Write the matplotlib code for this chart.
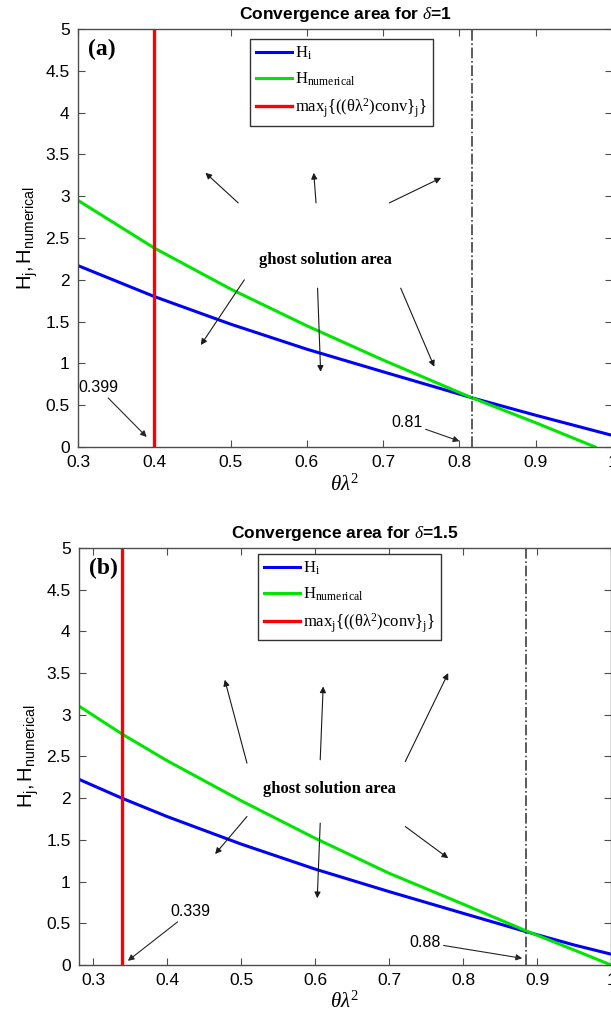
import numpy as np
import matplotlib
matplotlib.use("Agg")
import matplotlib.pyplot as plt
from matplotlib.ticker import FormatStrFormatter, MultipleLocator

plt.rcParams["font.family"] = ["Liberation Sans", "DejaVu Sans"]
plt.rcParams["mathtext.fontset"] = "custom"
plt.rcParams["mathtext.rm"] = "Liberation Serif"
plt.rcParams["mathtext.it"] = "Liberation Serif:italic"
plt.rcParams["mathtext.bf"] = "Liberation Serif:bold"
plt.rcParams["mathtext.sf"] = "Liberation Sans"

# ---- panel (a): delta = 1 ----
xa_blue = [0.30, 0.40, 0.50, 0.60, 0.70, 0.816, 0.90, 1.00]
ya_blue = [2.17, 1.80, 1.47, 1.17, 0.90, 0.59, 0.38, 0.14]
xa_green = [0.30, 0.40, 0.50, 0.60, 0.70, 0.816, 0.90, 0.978]
ya_green = [2.95, 2.38, 1.89, 1.45, 1.04, 0.59, 0.29, 0.00]
a_conv = 0.399
a_cross = 0.816

# ---- panel (b): delta = 1.5 ----
xb_blue = [0.28, 0.339, 0.40, 0.50, 0.60, 0.70, 0.80, 0.885, 0.95, 1.00]
yb_blue = [2.23, 2.00, 1.78, 1.45, 1.15, 0.88, 0.62, 0.40, 0.24, 0.13]
xb_green = [0.28, 0.339, 0.40, 0.50, 0.60, 0.70, 0.80, 0.885, 0.95, 1.00]
yb_green = [3.11, 2.77, 2.45, 1.97, 1.52, 1.10, 0.73, 0.41, 0.18, 0.00]
b_conv = 0.339
b_cross = 0.885

# ghost-area arrows: (x_start, y_start, x_end, y_end)
a_arrows = [(0.510, 2.92, 0.467, 3.28), (0.612, 2.92, 0.609, 3.28),
            (0.708, 2.92, 0.776, 3.22), (0.518, 2.00, 0.461, 1.22),
            (0.614, 1.90, 0.618, 0.90), (0.723, 1.90, 0.767, 0.96)]
b_arrows = [(0.508, 2.42, 0.478, 3.42), (0.607, 2.46, 0.611, 3.34),
            (0.722, 2.44, 0.780, 3.50), (0.508, 1.78, 0.465, 1.33),
            (0.607, 1.70, 0.603, 0.80), (0.722, 1.66, 0.780, 1.28)]

fig = plt.figure(figsize=(6.11, 10.22), dpi=100)
ax_a = fig.add_axes([0.1277, 0.5626, 0.874, 0.409])
ax_b = fig.add_axes([0.1293, 0.0558, 0.8707, 0.408])

legend_labels = [r"$\mathrm{H_i}$", r"$\mathrm{H_{numerical}}$",
                 r"$\mathrm{max_j\{((\theta\lambda^2)conv\}_j\}}$"]


def draw(ax, xb, yb, xg, yg, conv, cross, arrows, tag, title, xlim,
         text_xy, leg_anchor):
    ax.plot(xb, yb, color="#0000ff", lw=2.2, label=legend_labels[0])
    ax.plot(xg, yg, color="#00e600", lw=2.2, label=legend_labels[1])
    ax.axvline(conv, color="#ff0000", lw=2.4, label=legend_labels[2])
    ax.axvline(cross, color="0.25", lw=1.2, ls="-.")
    ax.set_xlim(*xlim)
    ax.set_ylim(0, 5)
    ax.xaxis.set_major_locator(MultipleLocator(0.1))
    ax.yaxis.set_major_locator(MultipleLocator(0.5))
    ax.xaxis.set_major_formatter(FormatStrFormatter("%g"))
    ax.yaxis.set_major_formatter(FormatStrFormatter("%g"))
    ax.tick_params(direction="in", top=True, right=True, length=5,
                   width=0.8, labelsize=12.5, pad=6, color="0.3")
    for s in ax.spines.values():
        s.set_color("0.3")
        s.set_linewidth(1.0)
    ax.set_title(title, fontsize=12.5, fontweight="bold", pad=7)
    ax.set_xlabel(r"$\theta\lambda^2$", fontsize=15, labelpad=2)
    ax.set_ylabel(r"$\mathsf{H_j,H_{numerical}}$", fontsize=14.5, labelpad=4)
    ax.text(xlim[0] + 0.013, 4.76, tag, fontsize=17, fontweight="bold",
            family="Liberation Serif", va="center", ha="left")
    ax.text(*text_xy, "ghost solution area", fontsize=12,
            fontweight="bold", family="Liberation Serif",
            ha="center", va="center")
    for x0, y0, x1, y1 in arrows:
        ax.annotate("", xy=(x1, y1), xytext=(x0, y0),
                    arrowprops=dict(arrowstyle="-|>", color="0.1", lw=0.8,
                                    mutation_scale=9, shrinkA=0, shrinkB=0))
    leg = ax.legend(loc="upper left", bbox_to_anchor=leg_anchor,
                    fontsize=12, frameon=True, fancybox=False,
                    edgecolor="0.2", framealpha=1, handlelength=2.2,
                    handletextpad=0.15, labelspacing=0.5, borderpad=0.35,
                    borderaxespad=0)
    leg.get_frame().set_linewidth(1.0)


draw(ax_a, xa_blue, ya_blue, xa_green, ya_green, a_conv, a_cross, a_arrows,
     "(a)", r"Convergence area for $\mathit{\delta}$=1", (0.3, 1.0),
     (0.624, 2.24), (0.322, 0.976))
draw(ax_b, xb_blue, yb_blue, xb_green, yb_green, b_conv, b_cross, b_arrows,
     "(b)", r"Convergence area for $\mathit{\delta}$=1.5", (0.281, 1.0),
     (0.62, 2.11), (0.336, 0.986))

# value annotations
arr = dict(arrowstyle="-|>", color="0.15", lw=0.8, mutation_scale=9,
           shrinkA=0, shrinkB=0)
ax_a.annotate("0.399", xy=(0.390, 0.12), xytext=(0.300, 0.71), fontsize=11.5,
              ha="left", va="center", arrowprops=arr)
ax_a.annotate("0.81", xy=(0.800, 0.07), xytext=(0.752, 0.29), fontsize=11.5,
              ha="right", va="center", arrowprops=arr)
ax_b.annotate("0.339", xy=(0.347, 0.05), xytext=(0.405, 0.64), fontsize=11.5,
              ha="left", va="center", arrowprops=arr)
ax_b.annotate("0.88", xy=(0.880, 0.08), xytext=(0.770, 0.27), fontsize=11.5,
              ha="right", va="center", arrowprops=arr)

fig.savefig("out.png", dpi=100)
